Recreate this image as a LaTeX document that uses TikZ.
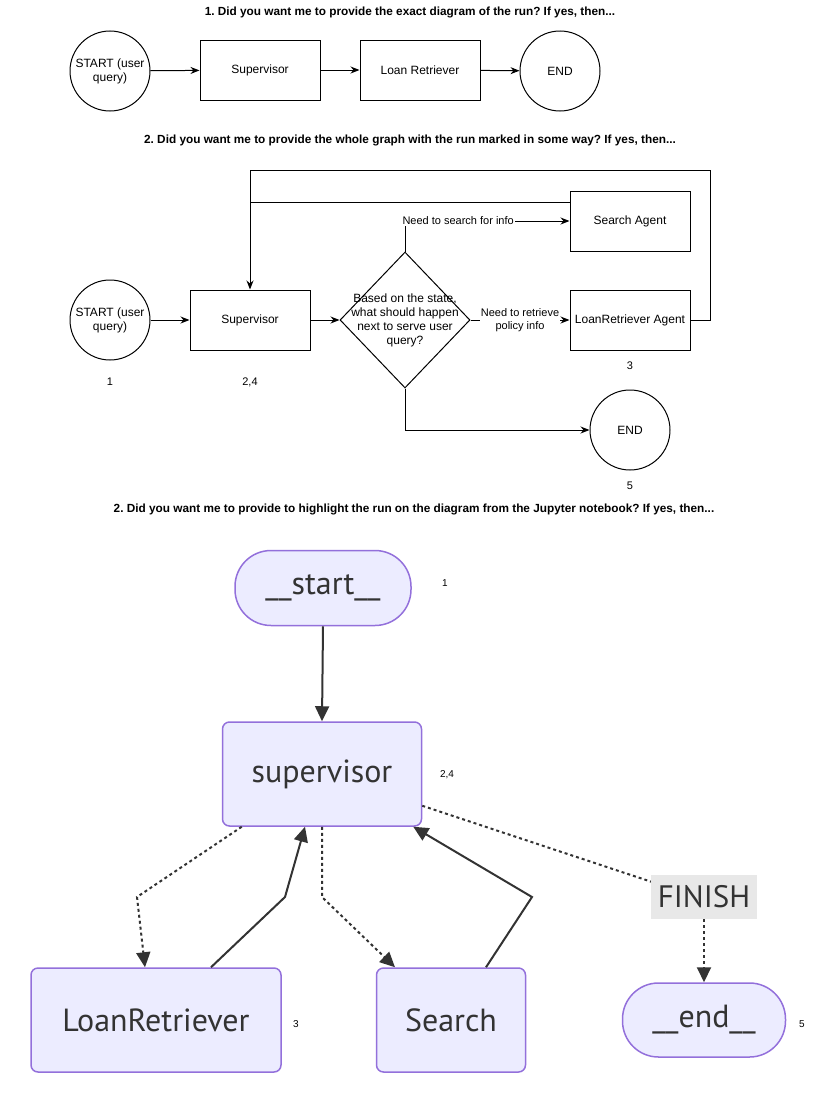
\documentclass[tikz,border=0pt]{standalone}
\usepackage{fontspec}
\setmainfont{Liberation Sans}
\newfontfamily\mermaidfont{PT Sans}
\definecolor{mermaidFill}{HTML}{ECECFF}
\definecolor{mermaidLine}{HTML}{9370DB}
\definecolor{mermaidEdge}{HTML}{333333}
\definecolor{finishFill}{HTML}{E8E8E8}
\usetikzlibrary{shapes.geometric, positioning, arrows.meta}
\frenchspacing

\begin{document}
\begin{tikzpicture}[x=1pt, y=-1pt,
  every node/.style={font=\fontsize{12}{14}\selectfont},
  heading/.style={font=\fontsize{11.8}{13}\selectfont\bfseries},
  runno/.style={font=\fontsize{11}{13}\selectfont},
  box/.style={draw, line width=1pt, minimum width=120pt, minimum height=60pt, inner sep=0pt, align=center},
  terminal/.style={draw, circle, line width=1pt, minimum size=80pt, inner sep=0pt, align=center},
  flow/.style={line width=1pt, -{Stealth[length=9pt,width=7pt]}},
  edgetext/.style={font=\fontsize{11}{12.5}\selectfont, fill=white, inner sep=1pt, align=center},
  mnode/.style={draw=mermaidLine, fill=mermaidFill, line width=1.5pt, rounded corners=7pt, text=mermaidEdge, font=\mermaidfont\fontsize{32}{34}\selectfont, inner sep=0pt},
  mstadium/.style={mnode, rounded corners=36pt},
  medge/.style={draw=mermaidEdge, line width=2pt, -{Triangle[length=15pt,width=14pt]}},
  mdashed/.style={medge, dash pattern=on 3pt off 3pt},
  mdashline/.style={draw=mermaidEdge, line width=2pt, dash pattern=on 3pt off 3pt},
  mrunno/.style={font=\fontsize{10}{12}\selectfont}
]
\useasboundingbox (0,0) rectangle (821,1100);

%%% EXACT RUN

\node[heading] (title1) at (410,12) {1. Did you want me to provide the exact diagram of the run? If yes, then...};

\node[terminal] (start1) at (110,71) {START (user\\query)};
\node[box] (sup1) at (260,70) {Supervisor};
\node[box] (loan1) at (420,70) {Loan Retriever};
\node[terminal] (end1) at (560,71) {END};

\draw[flow] (start1) -- (sup1);
\draw[flow] (sup1) -- (loan1);
\draw[flow] (loan1) -- (end1);

%%% WHOLE GRAPH

\node[heading] (title2) at (410,140) {2. Did you want me to provide the whole graph with the run marked in some way? If yes, then...};

\node[terminal] (start2) at (110,320) {START (user\\query)};
\node[box] (sup2) at (250,320) {Supervisor};
\node[draw, diamond, line width=1pt, minimum width=130pt, minimum height=136pt, inner sep=0pt] (decide) at (405,320) {};
\node[align=center, font=\fontsize{12}{14}\selectfont] (decidetext) at (decide) {Based on the state,\\what should happen\\next to serve user\\query?};
\node[box] (searchAgent) at (630,221) {Search Agent};
\node[box] (loanAgent) at (630,320) {LoanRetriever Agent};
\node[terminal] (end2) at (630,430) {END};

\node[runno] (n1) at (110,382) {1};
\node[runno] (n24) at (250,382) {2,4};
\node[runno] (n3) at (630,366) {3};
\node[runno] (n5) at (630,486) {5};

\draw[flow] (start2) -- (sup2);
\draw[flow] (sup2) -- (decide);
\draw[flow] (decide.north) |- (searchAgent.west)
  node[edgetext, pos=0.5, anchor=west, xshift=-4pt] {Need to search for info};
\draw[flow] (decide.east) -- (loanAgent.west)
  node[edgetext, midway] {Need to retrieve\\policy info};
\draw[flow] (decide.south) |- (end2.west);
\draw[flow] (loanAgent.east) -- (710,320) -- (710,170) -- (sup2.north |- 0,170) -- (sup2.north);
\draw[line width=1pt] ([yshift=19pt]searchAgent.west) -- (sup2.north |- 0,202);

%%% JUPYTER GRAPH

\node[heading] (title3) at (414,509) {2. Did you want me to provide to highlight the run on the diagram from the Jupyter notebook? If yes, then...};

\node[mstadium, minimum width=176pt, minimum height=75pt] (start3) at (323,588) {\_\_start\_\_};
\node[mnode, minimum width=199pt, minimum height=104pt] (superv) at (322,774) {supervisor};
\node[mnode, minimum width=250pt, minimum height=104pt] (loanR) at (156,1020) {LoanRetriever};
\node[mnode, minimum width=149pt, minimum height=104pt] (search) at (451,1020) {Search};
\node[mstadium, minimum width=163pt, minimum height=74pt] (end3) at (704,1020) {\_\_end\_\_};

\node[mrunno] (m1) at (445,583) {1};
\node[mrunno] (m24) at (447,775) {2,4};
\node[mrunno] (m3) at (296,1024) {3};
\node[mrunno] (m5) at (802,1024) {5};

\draw[medge] (start3.south) -- (superv.north);
\draw[mdashed] ([xshift=20pt]superv.south west) -- (137,897) -- ([xshift=-11pt]loanR.north);
\draw[medge] ([xshift=55pt]loanR.north) -- (285,897) -- ([xshift=-17pt]superv.south);
\draw[mdashed] (superv.south) -- (322,897) -- ([xshift=-56pt]search.north);
\draw[medge] ([xshift=35pt]search.north) -- (532,897) -- ([xshift=-9pt]superv.south east);
\draw[mdashline] ([yshift=21pt]superv.south east) -- (655,883);

\node[fill=finishFill, text=mermaidEdge, font=\mermaidfont\fontsize{31}{34}\selectfont, minimum width=106pt, minimum height=44pt, inner sep=0pt] (finish) at (704,897) {FINISH};
\draw[mdashed] (finish.south) -- (end3.north);

\end{tikzpicture}
\end{document}
